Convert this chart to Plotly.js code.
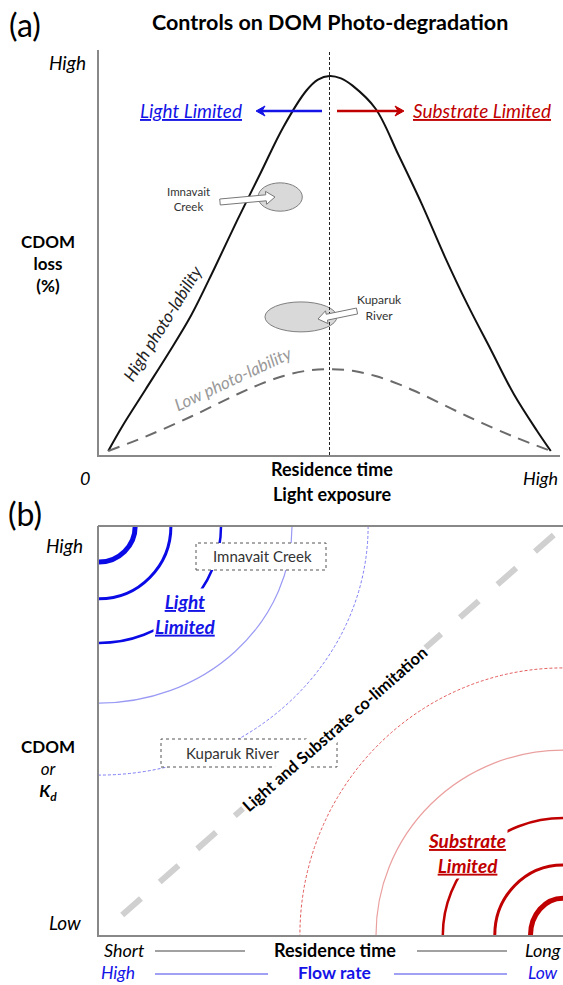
<!DOCTYPE html>
<html><head><meta charset="utf-8">
<script src="https://cdn.plot.ly/plotly-3.0.1.min.js"></script>
<style>html,body{margin:0;padding:0;background:#fff}#chart{width:563px;height:985px}</style>
</head><body><div id="chart"></div>
<script>
// ---------- Panel (a) data ----------
const residenceTime = [0.2, 0.5, 1.0, 1.5, 2.0, 2.5, 3.0, 3.5, 4.0, 4.5, 4.75, 5.0, 5.25, 5.5, 6.0, 6.5, 7.0, 7.5, 8.0, 8.5, 9.0, 9.5, 9.8];
const cdomLossHigh  = [0.1, 0.7, 1.6, 2.5, 3.45, 4.6, 5.8, 6.95, 8.1, 9.0, 9.27, 9.36, 9.3, 9.12, 8.55, 7.4, 6.2, 4.9, 3.7, 2.6, 1.5, 0.6, 0.1];
const residenceTimeLow = [0.2, 1.0, 2.0, 3.0, 3.5, 4.0, 4.5, 5.0, 5.5, 6.0, 6.5, 7.0, 8.0, 9.0, 9.8];
const cdomLossLow      = [0.1, 0.45, 0.95, 1.5, 1.75, 1.95, 2.08, 2.12, 2.08, 1.95, 1.75, 1.5, 0.95, 0.45, 0.1];
const peakTime = 5.0;
const siteNames = ['Imnavait Creek', 'Kuparuk River'];
const siteTime  = [3.93, 4.38];
const siteLoss  = [6.37, 3.41];

// ---------- Panel (b) data ----------
const lightLimitedRx = [0.78, 1.55, 2.63, 4.16, 5.80];
const lightLimitedRy = [0.88, 1.78, 2.86, 4.33, 6.09];
const substrateLimitedRx = [0.70, 1.47, 2.59, 4.03, 5.67];
const substrateLimitedRy = [0.90, 1.71, 2.86, 4.52, 6.53];
const coLimitX = [0.5, 9.87];
const coLimitY = [0.49, 9.85];

// ---------- helpers ----------
const W = 563, H = 985;
const F = 'Lato, "Open Sans", sans-serif';
const px = v => v / W;
const py = v => 1 - v / H;
function ann(text, x, y, o) {
  o = o || {};
  return Object.assign({
    text: text, x: px(x), y: py(y), xref: 'paper', yref: 'paper',
    showarrow: false, xanchor: 'center', yanchor: 'middle',
    font: {family: F, size: o.size || 14, color: o.color || '#000'}
  }, o.extra || {});
}
function lineArrow(x1, y, x2, color) {
  // tail x1 -> tip x2 (pixels), horizontal
  const dir = Math.sign(x2 - x1), hl = 9, hw = 5;
  return [
    {type: 'line', xref: 'paper', yref: 'paper', x0: px(x1), x1: px(x2 - dir * 4), y0: py(y), y1: py(y),
     line: {color: color, width: 2.5}},
    {type: 'path', xref: 'paper', yref: 'paper', fillcolor: color, line: {color: color, width: 1},
     path: 'M' + px(x2) + ',' + py(y) + 'L' + px(x2 - dir * hl) + ',' + py(y - hw) +
           'L' + px(x2 - dir * (hl - 3)) + ',' + py(y) + 'L' + px(x2 - dir * hl) + ',' + py(y + hw) + 'Z'}
  ];
}
function blockArrow(x1, y1, x2, y2) {
  const dx = x2 - x1, dy = y2 - y1, L = Math.hypot(dx, dy);
  const ux = dx / L, uy = dy / L, nx = -uy, ny = ux;
  const sw = 3, hw = 6.5, hl = 9;
  const bx = x2 - ux * hl, by = y2 - uy * hl;
  const pts = [[x1 + nx * sw, y1 + ny * sw], [bx + nx * sw, by + ny * sw], [bx + nx * hw, by + ny * hw], [x2, y2],
               [bx - nx * hw, by - ny * hw], [bx - nx * sw, by - ny * sw], [x1 - nx * sw, y1 - ny * sw]];
  return {type: 'path', xref: 'paper', yref: 'paper',
    path: 'M' + pts.map(p => px(p[0]).toFixed(5) + ',' + py(p[1]).toFixed(5)).join('L') + 'Z',
    fillcolor: '#fff', line: {color: '#777', width: 1}};
}

const traces = [
  {x: residenceTime, y: cdomLossHigh, xaxis: 'x', yaxis: 'y', mode: 'lines',
   line: {color: '#111', width: 2, shape: 'spline', smoothing: 1}, hoverinfo: 'skip'},
  {x: residenceTimeLow, y: cdomLossLow, xaxis: 'x', yaxis: 'y', mode: 'lines',
   line: {color: '#6b6b6b', width: 2, shape: 'spline', dash: '12px,8px'}, hoverinfo: 'skip'},
  {x: coLimitX, y: coLimitY, xaxis: 'x2', yaxis: 'y2', mode: 'lines',
   line: {color: '#d0d0d0', width: 6, dash: '25px,25px'}, hoverinfo: 'skip'}
];

const BLUE = '#1414e6', RED = '#c00000';
const shapes = [];
const siteRx = [0.48, 0.78], siteRy = [0.35, 0.37];
siteTime.forEach((t, i) => {
  shapes.push({type: 'circle', xref: 'x', yref: 'y', layer: 'below',
    x0: t - siteRx[i], x1: t + siteRx[i], y0: siteLoss[i] - siteRy[i], y1: siteLoss[i] + siteRy[i],
    fillcolor: '#d9d9d9', line: {color: '#7f7f7f', width: 1}});
});
shapes.push({type: 'line', xref: 'x', yref: 'y', x0: peakTime, x1: peakTime, y0: 0, y1: 10,
  line: {color: '#222', width: 1, dash: '3px,2px'}});
shapes.push(blockArrow(220, 202, 275, 197));
shapes.push(blockArrow(357, 311, 318, 319));
lineArrow(322, 111, 256, BLUE).forEach(s => shapes.push(s));
lineArrow(337, 111, 404, RED).forEach(s => shapes.push(s));

const blueStyles = [{c: '#0a0ae6', w: 5}, {c: '#0a0ae6', w: 3}, {c: '#0a0ae6', w: 2.5}, {c: '#9a9af5', w: 1.2}, {c: '#7d7df5', w: 1, d: '3px,2px'}];
const redStyles = [{c: '#c00000', w: 5}, {c: '#c00000', w: 3}, {c: '#c00000', w: 2.5}, {c: '#eba0a0', w: 1.2}, {c: '#e35b5b', w: 1, d: '3px,2px'}];
lightLimitedRx.forEach((rx, i) => {
  const ry = lightLimitedRy[i], s = blueStyles[i];
  shapes.push({type: 'circle', xref: 'x2', yref: 'y2', x0: -rx, x1: rx, y0: 10 - ry, y1: 10 + ry,
    line: {color: s.c, width: s.w, dash: s.d || 'solid'}});
});
substrateLimitedRx.forEach((rx, i) => {
  const ry = substrateLimitedRy[i], s = redStyles[i];
  shapes.push({type: 'circle', xref: 'x2', yref: 'y2', x0: 10 - rx, x1: 10 + rx, y0: -ry, y1: ry,
    line: {color: s.c, width: s.w, dash: s.d || 'solid'}});
});
shapes.push({type: 'rect', xref: 'paper', yref: 'paper', x0: px(196), x1: px(326), y0: py(570), y1: py(543),
  fillcolor: '#fff', line: {color: '#555', width: 1, dash: 'dot'}});
shapes.push({type: 'rect', xref: 'paper', yref: 'paper', x0: px(161), x1: px(337), y0: py(767), y1: py(739),
  fillcolor: '#fff', line: {color: '#555', width: 1, dash: 'dot'}});
shapes.push({type: 'line', xref: 'paper', yref: 'paper', x0: px(98), x1: 1, y0: py(526), y1: py(526),
  line: {color: '#888', width: 2}});
shapes.push({type: 'line', xref: 'paper', yref: 'paper', x0: px(155), x1: px(245), y0: py(951), y1: py(951), line: {color: '#444', width: 1.2}});
shapes.push({type: 'line', xref: 'paper', yref: 'paper', x0: px(417), x1: px(507), y0: py(951), y1: py(951), line: {color: '#444', width: 1.2}});
shapes.push({type: 'line', xref: 'paper', yref: 'paper', x0: px(155), x1: px(268), y0: py(974), y1: py(974), line: {color: '#8080f0', width: 1.5}});
shapes.push({type: 'line', xref: 'paper', yref: 'paper', x0: px(394), x1: px(507), y0: py(974), y1: py(974), line: {color: '#8080f0', width: 1.5}});

const annotations = [
  ann('(a)', 25, 24, {size: 32}),
  ann('<b>Controls on DOM Photo-degradation</b>', 330, 22, {size: 21.5}),
  ann('<i>High</i>', 88, 63, {size: 19, extra: {xanchor: 'right'}}),
  ann('<i><u>Light Limited</u></i>', 191, 111, {size: 19, color: BLUE}),
  ann('<i><u>Substrate Limited</u></i>', 482, 111, {size: 19, color: RED}),
  ann('<b>CDOM<br>loss<br>(%)</b>', 48, 264, {size: 17}),
  ann('Imnavait<br>Creek', 188, 199, {size: 11.5, color: '#333'}),
  ann('Kuparuk<br>River', 379, 307, {size: 12, color: '#333'}),
  ann('<i>High photo-lability</i>', 162, 323, {size: 17, color: '#222', extra: {textangle: -58}}),
  ann('<i>Low photo-lability</i>', 233, 378, {size: 17, color: '#999', extra: {textangle: -25}}),
  ann('<i>0</i>', 85, 478, {size: 18}),
  ann('<i>High</i>', 540, 478, {size: 18}),
  ann('<b>Residence time</b>', 332, 469, {size: 18}),
  ann('<b>Light exposure</b>', 332, 494, {size: 18}),
  ann('(b)', 25, 513, {size: 32}),
  ann('<i>High</i>', 85, 545, {size: 19, extra: {xanchor: 'right'}}),
  ann('<i>Low</i>', 83, 922, {size: 19, extra: {xanchor: 'right'}}),
  ann('<b>CDOM</b><br><i>or</i><br><b><i>K<sub>d</sub></i></b>', 48, 770, {size: 17}),
  ann('<b><i><u>Light</u></i></b><br><b><i><u>Limited</u></i></b>', 185, 614, {size: 19, color: BLUE, extra: {bgcolor: '#fff'}}),
  ann('<b><i><u>Substrate</u></i></b><br><b><i><u>Limited</u></i></b>', 467, 853, {size: 19, color: RED, extra: {bgcolor: '#fff'}}),
  ann(siteNames[0], 262, 556, {size: 15, color: '#333'}),
  ann(siteNames[1], 232, 753, {size: 15, color: '#333'}),
  ann('<b>Light and Substrate co-limitation</b>', 335, 729, {size: 16.5, extra: {textangle: -41.4, bgcolor: '#fff'}}),
  ann('<i>Short</i>', 124, 950, {size: 18}),
  ann('<b>Residence time</b>', 335, 950, {size: 18}),
  ann('<i>Long</i>', 543, 950, {size: 18}),
  ann('<i>High</i>', 118, 972, {size: 17.5, color: BLUE}),
  ann('<b>Flow rate</b>', 334, 972, {size: 17.5, color: BLUE}),
  ann('<i>Low</i>', 543, 972, {size: 17.5, color: BLUE})
];

const axBase = {range: [0, 10], showgrid: false, zeroline: false, showticklabels: false, ticks: '',
  showline: true, linecolor: '#888', linewidth: 2, fixedrange: true};
const layout = {
  width: W, height: H, margin: {l: 0, r: 0, t: 0, b: 0}, showlegend: false,
  paper_bgcolor: '#fff', plot_bgcolor: 'rgba(0,0,0,0)',
  xaxis: Object.assign({}, axBase, {domain: [px(99), px(560)], anchor: 'y'}),
  yaxis: Object.assign({}, axBase, {domain: [py(455), py(50)], anchor: 'x'}),
  xaxis2: Object.assign({}, axBase, {domain: [px(99), 1], anchor: 'y2'}),
  yaxis2: Object.assign({}, axBase, {domain: [py(935), py(526)], anchor: 'x2'}),
  shapes: shapes, annotations: annotations
};
Plotly.newPlot('chart', traces, layout, {displayModeBar: false, staticPlot: true});
</script></body></html>
